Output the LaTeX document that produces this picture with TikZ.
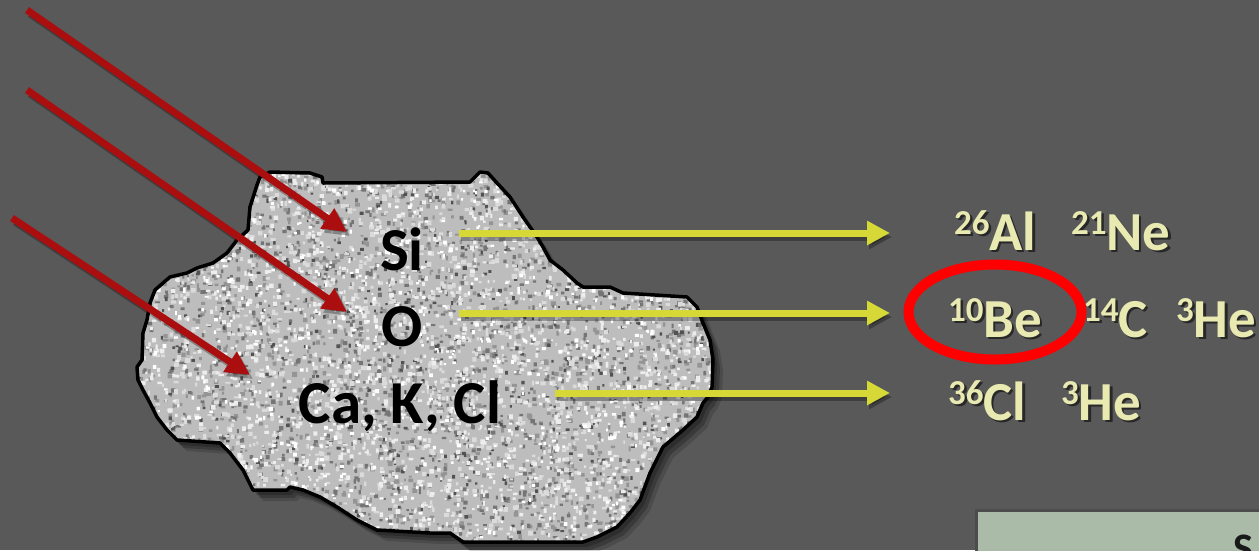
\documentclass[tikz,border=0pt]{standalone}
\usepackage{fontspec}
\setmainfont{Carlito}
\usetikzlibrary{arrows.meta,shapes.geometric}

\definecolor{bgcol}{RGB}{89,89,89}
\definecolor{raycol}{RGB}{170,14,14}
\definecolor{prodcol}{RGB}{213,216,55}
\definecolor{nuccol}{RGB}{233,233,178}
\definecolor{boxcol}{RGB}{170,187,168}
\definecolor{ringcol}{RGB}{255,0,0}

% isotope label: mass number raised before the element symbol
\newcommand\iso[2]{{\fontsize{35}{35}\selectfont\raisebox{16pt}{#1}}#2}
% isotope label with a soft drop shadow
\newcommand\nuclide[4]{%
  \node[nuc,text=black,opacity=.55] at ([shift={(2.5,2.5)}]#2) {\iso{#3}{#4}};
  \node[nuc] (#1) at (#2) {\iso{#3}{#4}};
}

\begin{document}
\begin{tikzpicture}[x=1pt,y=-1pt,
  ray/.style={draw=raycol,line width=7pt,-{Triangle[length=24pt,width=23pt]}},
  prod/.style={draw=prodcol,line width=7pt,-{Triangle[length=23pt,width=23pt]}},
  arrowshadow/.style={draw=black,opacity=.3},
  nuc/.style={anchor=base west,inner sep=0pt,outer sep=0pt,text=nuccol,
    font=\bfseries\fontsize{55}{55}\selectfont},
  element/.style={anchor=base,inner sep=0pt,text=black,
    font=\bfseries\fontsize{61}{61}\selectfont},
  ring/.style={draw=ringcol,line width=10pt,ellipse,inner sep=0pt,
    minimum width=173pt,minimum height=95pt},
  panel/.style={draw=black!70,line width=3pt,fill=boxcol,anchor=north west,
    minimum width=320pt,minimum height=80pt,inner sep=0pt},
  rockoutline/.style={insert path={
    (260,177) -- (270,172) -- (310,173) -- (322,177) -- (323,183) -- (470,182)
    -- (480,172) -- (488,173) -- (497,183) -- (510,197) -- (523,217)
    -- (537,237) -- (543,247) -- (550,260) -- (563,270) -- (577,283)
    -- (583,287) -- (610,287) -- (623,293) -- (687,297) -- (697,307)
    -- (703,323) -- (710,340) -- (713,360) -- (712,387) -- (708,397)
    -- (703,403) -- (697,417) -- (683,430) -- (663,447) -- (650,473)
    -- (640,500) -- (630,513) -- (617,527) -- (597,537) -- (583,542)
    -- (463,542) -- (450,533) -- (430,533) -- (377,530) -- (357,520)
    -- (337,507) -- (320,497) -- (303,490) -- (290,487) -- (287,490)
    -- (253,490) -- (243,470) -- (230,453) -- (220,443) -- (177,440)
    -- (167,430) -- (157,417) -- (150,403) -- (143,390) -- (138,380)
    -- (137,367) -- (142,360) -- (143,333) -- (147,320) -- (150,303)
    -- (155,290) -- (163,283) -- (170,277) -- (187,273) -- (197,268)
    -- (213,263) -- (227,253) -- (237,240) -- (248,230) -- (250,207)
    -- (257,185) -- cycle}}
]
\useasboundingbox (0,0) rectangle (1259,550);
\fill[bgcol] (0,0) rectangle (1259,550);

% panel at the lower right
\fill[black,opacity=.35] (977,512) rectangle (1262,553);
\node[panel] (panel) at (975,509) {};
\node[anchor=base west,inner sep=0pt,text=black!90,
  font=\bfseries\fontsize{42}{42}\selectfont] (panelword) at (1233,562) {S};

% rock: layered soft shadow
\fill[black,opacity=.22,shift={(4,5)},rockoutline];
\fill[black,opacity=.22,shift={(7,8)},rockoutline];
\fill[black,opacity=.15,shift={(10,11)},rockoutline];

% rock: mottled grey texture, one path per grey level
\begin{scope}
  \clip[rockoutline];
  \fill[black!26] (130,168) rectangle (716,546);
  \pgfmathsetseed{7}
  \foreach \lv/\n/\s in {42/1700/3.2,54/1300/2.8,68/600/2.2}{
    \fill[black!\lv] foreach \i in {1,...,\n}{
      ({133+581*rnd},{171+373*rnd}) rectangle ++({1.8+\s*rnd},{1.8+\s*rnd})};
  }
  \foreach \lv/\n/\s in {14/1800/3.4,7/1400/3.0,0/800/2.4}{
    \fill[black!\lv] foreach \i in {1,...,\n}{
      ({133+581*rnd},{171+373*rnd}) rectangle ++({1.8+\s*rnd},{1.8+\s*rnd})};
  }
\end{scope}
\draw[black,line width=3.5pt,line join=round,rockoutline];

% target elements
\node[element] (si) at (402,270) {Si};
\node[element] (o) at (402,346) {O};
\node[element] (cakcl) at (400,423) {Ca, K, Cl};

% incoming cosmic rays
\coordinate (r1s) at (27,10);  \coordinate (r1e) at (347,232);
\coordinate (r2s) at (27,90);  \coordinate (r2e) at (347,312);
\coordinate (r3s) at (12,218); \coordinate (r3e) at (250,375);
\foreach \a in {1,2,3}{
  \draw[ray,arrowshadow] ([shift={(3,4)}]r\a s) -- ([shift={(3,4)}]r\a e);
  \draw[ray] (r\a s) -- (r\a e);
}

% produced nuclides
\coordinate (p1s) at (459,233); \coordinate (p1e) at (890,233);
\coordinate (p2s) at (459,313); \coordinate (p2e) at (890,313);
\coordinate (p3s) at (555,393); \coordinate (p3e) at (890,393);
\foreach \a in {1,2,3}{
  \draw[prod,arrowshadow] ([shift={(2,4)}]p\a s) -- ([shift={(2,4)}]p\a e);
  \draw[prod] (p\a s) -- (p\a e);
}

\nuclide{al}{954,250}{26}{Al}
\nuclide{ne}{1071,250}{21}{Ne}
\nuclide{be}{948,337}{10}{Be}
\nuclide{c}{1083,337}{14}{C}
\nuclide{hea}{1176,337}{3}{He}
\nuclide{cl}{948,420}{36}{Cl}
\nuclide{heb}{1061,420}{3}{He}

\node[ring] (ring) at (995,312) {};
\end{tikzpicture}
\end{document}
